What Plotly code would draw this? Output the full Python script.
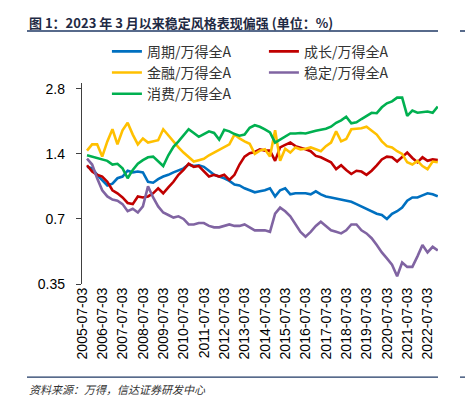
import math
import plotly.graph_objects as go

dates = [
    "2005-10-01", "2006-01-01", "2006-04-01", "2006-07-01", "2006-10-01",
    "2007-01-01", "2007-04-01", "2007-07-01", "2007-10-01", "2008-01-01",
    "2008-04-01", "2008-07-01", "2008-10-01", "2009-01-01", "2009-04-01",
    "2009-07-01", "2009-10-01", "2010-01-01", "2010-04-01", "2010-07-01",
    "2010-10-01", "2011-01-01", "2011-04-01", "2011-07-01", "2011-10-01",
    "2012-01-01", "2012-04-01", "2012-07-01", "2012-10-01", "2013-01-01",
    "2013-04-01", "2013-07-01", "2013-10-01", "2014-01-01", "2014-04-01",
    "2014-07-01", "2014-10-01", "2015-01-01", "2015-04-01", "2015-07-01",
    "2015-10-01", "2016-01-01", "2016-04-01", "2016-07-01", "2016-10-01",
    "2017-01-01", "2017-04-01", "2017-07-01", "2017-10-01", "2018-01-01",
    "2018-04-01", "2018-07-01", "2018-10-01", "2019-01-01", "2019-04-01",
    "2019-07-01", "2019-10-01", "2020-01-01", "2020-04-01", "2020-07-01",
    "2020-10-01", "2021-01-01", "2021-04-01", "2021-07-01", "2021-10-01",
    "2022-01-01", "2022-04-01", "2022-07-01", "2022-10-01", "2023-01-01",
]

cyclical = [  # 周期/万得全A
    1.22, 1.20, 1.12, 1.06, 1.00, 1.02, 1.08, 1.10, 1.17, 1.15,
    1.16, 1.15, 1.04, 1.03, 1.07, 1.10, 1.12, 1.15, 1.17, 1.20,
    1.25, 1.23, 1.24, 1.22, 1.17, 1.12, 1.10, 1.08, 1.05, 1.01,
    1.00, 0.97, 0.95, 0.93, 0.94, 0.95, 0.97, 0.89, 0.95, 0.97,
    0.91, 0.92, 0.92, 0.92, 0.91, 0.94, 0.91, 0.89, 0.88, 0.87,
    0.86, 0.85, 0.84, 0.82, 0.80, 0.78, 0.76, 0.74, 0.73, 0.70,
    0.74, 0.76, 0.79, 0.85, 0.88, 0.88, 0.90, 0.92, 0.91, 0.89,
]
growth = [  # 成长/万得全A
    1.24, 1.16, 1.12, 1.10, 1.04, 0.95, 0.92, 0.88, 0.83, 0.82,
    0.89, 0.88, 0.89, 0.92, 0.97, 0.92, 0.98, 1.04, 1.12, 1.18,
    1.26, 1.22, 1.23, 1.16, 1.10, 1.12, 1.10, 1.12, 1.06, 1.12,
    1.25, 1.36, 1.41, 1.43, 1.47, 1.45, 1.45, 1.30, 1.50, 1.54,
    1.58, 1.52, 1.50, 1.47, 1.44, 1.37, 1.35, 1.31, 1.28, 1.19,
    1.24, 1.18, 1.13, 1.17, 1.16, 1.12, 1.17, 1.24, 1.32, 1.36,
    1.35, 1.29, 1.35, 1.42, 1.34, 1.28, 1.35, 1.30, 1.32, 1.31,
]
financial = [  # 金融/万得全A
    1.45, 1.55, 1.55, 1.36, 1.60, 1.82, 1.55, 1.80, 1.95, 1.72,
    1.55, 1.65, 1.58, 1.60, 1.62, 1.82, 1.70, 1.60, 1.50, 1.42,
    1.35, 1.29, 1.31, 1.33, 1.38, 1.42, 1.47, 1.50, 1.55, 1.72,
    1.65, 1.60, 1.56, 1.40, 1.45, 1.47, 1.36, 1.80, 1.30, 1.48,
    1.42, 1.50, 1.47, 1.48, 1.50, 1.47, 1.44, 1.52, 1.58, 1.78,
    1.60, 1.64, 1.82, 1.83, 1.84, 1.87, 1.80, 1.72, 1.60, 1.52,
    1.50, 1.44, 1.40, 1.28, 1.25, 1.30, 1.23, 1.19, 1.29, 1.28,
]
stable = [  # 稳定/万得全A
    1.33, 1.25, 1.08, 0.95, 0.89, 0.86, 0.85, 0.82, 0.76, 0.78,
    0.75, 0.80, 0.99, 0.88, 0.80, 0.75, 0.73, 0.71, 0.72, 0.70,
    0.66, 0.66, 0.67, 0.67, 0.65, 0.64, 0.64, 0.65, 0.66, 0.65,
    0.65, 0.66, 0.64, 0.62, 0.62, 0.62, 0.61, 0.74, 0.79, 0.76,
    0.72, 0.66, 0.61, 0.58, 0.61, 0.65, 0.68, 0.65, 0.62, 0.61,
    0.60, 0.62, 0.66, 0.66, 0.62, 0.60, 0.57, 0.53, 0.49, 0.46,
    0.43, 0.38, 0.44, 0.42, 0.42, 0.47, 0.53, 0.49, 0.52, 0.50,
]
consumer = [  # 消费/万得全A
    1.38, 1.36, 1.34, 1.33, 1.30, 1.25, 1.26, 1.20, 1.08, 1.18,
    1.26, 1.31, 1.35, 1.36, 1.30, 1.23, 1.38, 1.51, 1.60, 1.70,
    1.82, 1.75, 1.68, 1.73, 1.78, 1.75, 1.63, 1.81, 1.78, 1.73,
    1.70, 1.72, 1.85, 1.90, 1.87, 1.82, 1.76, 1.58, 1.63, 1.68,
    1.74, 1.74, 1.75, 1.74, 1.77, 1.79, 1.81, 1.83, 1.87, 1.95,
    2.00, 2.08, 1.94, 1.96, 2.03, 2.10, 2.17, 2.16, 2.30, 2.40,
    2.45, 2.55, 2.55, 2.10, 2.22, 2.17, 2.18, 2.20, 2.17, 2.32,
]

series_names = ["周期/万得全A", "成长/万得全A", "金融/万得全A", "稳定/万得全A", "消费/万得全A"]
series_values = [cyclical, growth, financial, stable, consumer]
series_colors = ["#0070C0", "#C00000", "#FFC000", "#8064A2", "#00B050"]

x_tick_vals = ["%d-07-03" % y for y in range(2005, 2023)]
x_tick_text = x_tick_vals
y_tick_vals = [0.35, 0.7, 1.4, 2.8]
y_tick_text = ["0.35", "0.7", "1.4", "2.8"]

y_min, y_max = 0.35, 2.98
x_start, x_end = "2005-07-03", "2023-01-05"

fig = go.Figure()
for name, vals, col in zip(series_names, series_values, series_colors):
    fig.add_trace(go.Scatter(x=dates, y=vals, name=name, mode="lines",
                             line=dict(color=col, width=2.6)))

# position of the y=1 baseline in paper coordinates
base_pos = (math.log10(1.0) - math.log10(y_min)) / (math.log10(y_max) - math.log10(y_min))

fig.update_layout(
    width=465, height=398,
    margin=dict(l=82, r=27, t=83, b=114, autoexpand=False),
    paper_bgcolor="white", plot_bgcolor="white",
    showlegend=True,
    legend=dict(orientation="h", x=0.07, y=1.235, xanchor="left", yanchor="top",
                entrywidth=112, entrywidthmode="pixels",
                font=dict(family="Noto Sans CJK SC", size=14, color="#333333"),
                bgcolor="rgba(0,0,0,0)", tracegroupgap=0, itemwidth=30),
    xaxis=dict(type="date", range=[x_start, x_end], tickmode="array",
               tickvals=x_tick_vals, ticktext=x_tick_text, tickangle=-90,
               showgrid=False, zeroline=False, showline=False, ticks="",
               tickfont=dict(family="Liberation Sans", size=14, color="#000000")),
    xaxis2=dict(type="date", matches="x", overlaying="x", anchor="free",
                position=base_pos, tickmode="array", tickvals=x_tick_vals,
                showticklabels=False, showgrid=False, zeroline=False,
                showline=True, linecolor="#404040", linewidth=1.3,
                ticks="outside", ticklen=5, tickcolor="#404040", tickwidth=1.3),
    yaxis=dict(type="log", range=[math.log10(y_min), math.log10(y_max)],
               tickmode="array", tickvals=y_tick_vals, ticktext=y_tick_text,
               showgrid=False, zeroline=False, showline=True,
               linecolor="#404040", linewidth=1.3, ticks="outside", ticklen=5,
               tickcolor="#404040", ticklabelstandoff=8,
               tickfont=dict(family="Liberation Sans", size=14, color="#000000")),
    font=dict(family="Noto Sans CJK SC"),
)

fig.add_annotation(text="<b>图 1：2023 年 3 月以来稳定风格表现偏强 (单位：%)</b>",
                   xref="paper", yref="paper", x=-0.155, y=1.0, xanchor="left",
                   yanchor="bottom", yshift=49, showarrow=False,
                   font=dict(family="Noto Sans CJK SC", size=13, color="#1F2A44"))
fig.add_annotation(text="<i>资料来源：万得，信达证券研发中心</i>",
                   xref="paper", yref="paper", x=-0.155, y=0, xanchor="left",
                   yanchor="top", yshift=-95, showarrow=False,
                   font=dict(family="Noto Sans CJK SC", size=11, color="#333333"))

# title and source rules (plus the edge of the neighbouring figure's rules)
fig.add_shape(type="line", xref="paper", yref="paper", x0=-0.1545, x1=1.0,
              y0=1.259, y1=1.259, line=dict(color="#1F3864", width=1.5))
fig.add_shape(type="line", xref="paper", yref="paper", x0=1.0618, x1=1.2,
              y0=1.259, y1=1.259, line=dict(color="#1F3864", width=1.5))
fig.add_shape(type="line", xref="paper", yref="paper", x0=-0.1545, x1=1.0,
              y0=-0.463, y1=-0.463, line=dict(color="#1F3864", width=1.2))
fig.add_shape(type="line", xref="paper", yref="paper", x0=1.0618, x1=1.2,
              y0=-0.463, y1=-0.463, line=dict(color="#1F3864", width=1.2))

fig.write_html("out.html", config={"displayModeBar": False},
               post_script="document.body.style.margin='0';")
